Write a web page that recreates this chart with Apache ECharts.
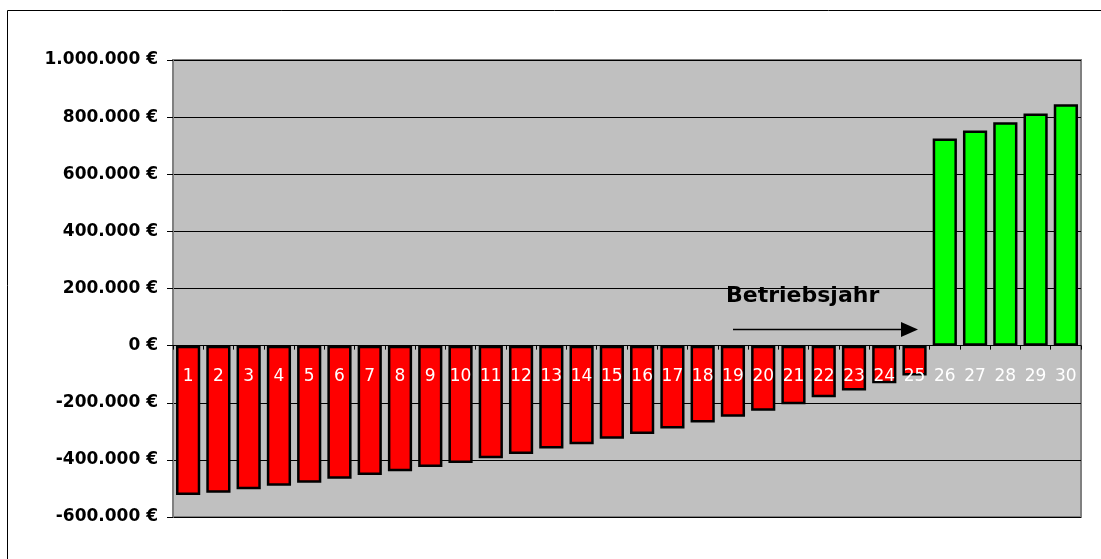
<!DOCTYPE html>
<html>
<head>
<meta charset="utf-8">
<script src="https://cdn.jsdelivr.net/npm/echarts@6/dist/echarts.min.js"></script>
<style>
  html, body { margin: 0; padding: 0; background: #fff; }
  #chart { width: 1101px; height: 559px; }
</style>
</head>
<body>
<div id="chart"></div>
<script>
// Betriebsjahre 1..30
var years = ['1', '2', '3', '4', '5', '6', '7', '8', '9', '10',
    '11', '12', '13', '14', '15', '16', '17', '18', '19', '20',
    '21', '22', '23', '24', '25', '26', '27', '28', '29', '30'];

// Werte in Euro
var values = [
    -523000, -515000, -503000, -491000, -480000, -466000, -453000, -440000, -425000, -411000,
    -394000, -379000, -360000, -345000, -326000, -309000, -290000, -269000, -249000, -228000,
    -205000, -181000, -157000, -132000, -105000,
    725000, 753000, 782000, 813000, 845000
];

// Achsenbeschriftung
var yMin = -600000;
var yMax = 1000000;
var yStep = 200000;

function euro (v) {
    var s = Math.abs(v).toString().replace(/\B(?=(\d{3})+(?!\d))/g, '.');
    return (v < 0 ? '-' : '') + s + ' €';
}

var chart = echarts.init(document.getElementById('chart'));

// Höhe der Plotfläche, um die x-Achse auf die Nulllinie zu schieben
var plotTop = 60, plotBottom = 42, chartH = 559;
var plotH = chartH - plotTop - plotBottom;
var zeroShift = plotH * (0 - yMin) / (yMax - yMin);

var option = {
    backgroundColor: '#fff',
    animation: false,
    grid: {
        left: 173, right: 20, top: plotTop, bottom: plotBottom,
        show: true,
        backgroundColor: '#c0c0c0',
        borderColor: '#808080',
        borderWidth: 2
    },
    xAxis: {
        type: 'category',
        data: years,
        z: 5,
        position: 'bottom',
        offset: -zeroShift,
        axisLine: { onZero: false, lineStyle: { color: '#000', width: 1 } },
        axisTick: { show: true, inside: false, length: 4, lineStyle: { color: '#000' } },
        axisLabel: {
            show: true,
            color: '#fff',
            fontFamily: 'DejaVu Sans',
            fontSize: 17,
            margin: 22,
            interval: 0
        }
    },
    yAxis: {
        type: 'value',
        min: yMin,
        max: yMax,
        interval: yStep,
        axisLine: { show: true, lineStyle: { color: '#808080', width: 2 } },
        axisTick: { show: true, length: 6, lineStyle: { color: '#000' } },
        splitLine: { show: true, lineStyle: { color: '#000', width: 1 } },
        axisLabel: {
            color: '#000',
            fontFamily: 'DejaVu Sans',
            fontWeight: 'bold',
            fontSize: 17,
            margin: 15,
            formatter: euro
        }
    },
    series: [{
        type: 'bar',
        data: values.map(function (v) {
            return {
                value: v,
                itemStyle: { color: v < 0 ? '#ff0000' : '#00ff00' }
            };
        }),
        barCategoryGap: '20%',
        itemStyle: { borderColor: '#000', borderWidth: 2.5 },
        z: 2
    }],
    graphic: [
        {
            type: 'rect',
            shape: { x: 7.5, y: 10.5, width: 1300, height: 700 },
            style: { fill: 'none', stroke: '#000', lineWidth: 1 },
            silent: true
        },
        {
            type: 'text',
            left: 726, top: 285,
            style: {
                text: 'Betriebsjahr',
                fill: '#000',
                font: 'bold 22px "DejaVu Sans"'
            },
            z: 10
        },
        {
            type: 'line',
            shape: { x1: 733, y1: 329.5, x2: 905, y2: 329.5 },
            style: { stroke: '#000', lineWidth: 1.5 },
            z: 10
        },
        {
            type: 'polygon',
            shape: { points: [[901, 322], [918, 329.5], [901, 337]] },
            style: { fill: '#000' },
            z: 10
        }
    ]
};

chart.setOption(option);
</script>
</body>
</html>
